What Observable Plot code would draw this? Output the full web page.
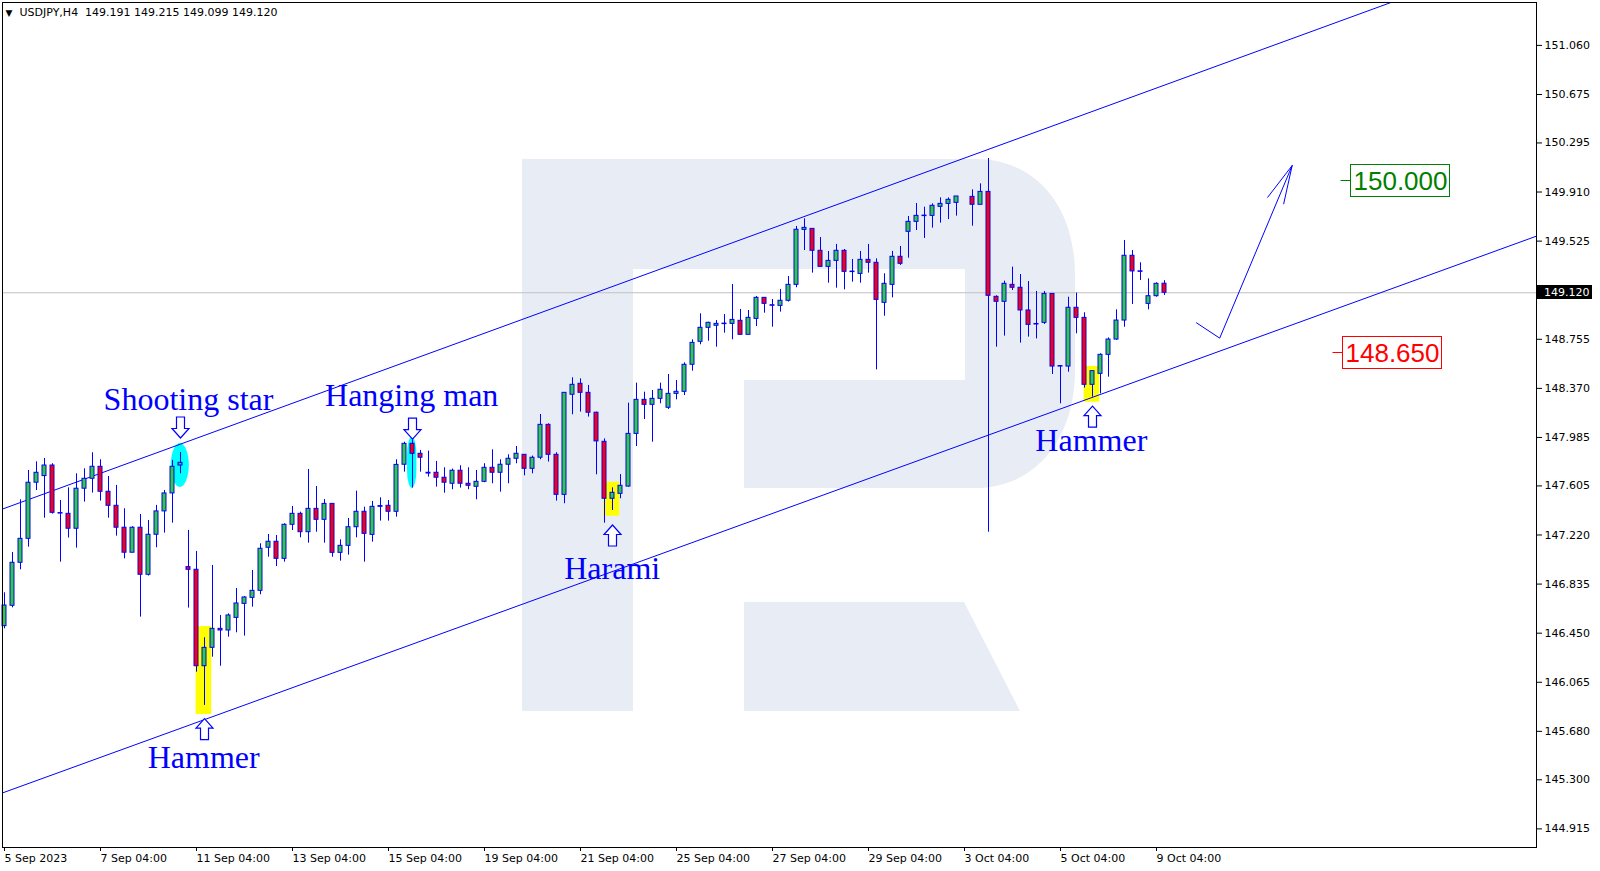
<!DOCTYPE html>
<html><head><meta charset="utf-8">
<script src="https://cdn.jsdelivr.net/npm/d3@7"></script>
<script src="https://cdn.jsdelivr.net/npm/@observablehq/plot@0.6"></script>
<style>
html,body{margin:0;padding:0;background:#fff;}
#chart svg{display:block;}
</style></head><body><div id="chart"></div>
<script>
// ---------- data ----------
const symbolTitle = "USDJPY,H4\u00a0\u00a0149.191 149.215 149.099 149.120";
const dateLabels = ["5 Sep 2023","7 Sep 04:00","11 Sep 04:00","13 Sep 04:00","15 Sep 04:00","19 Sep 04:00","21 Sep 04:00","25 Sep 04:00","27 Sep 04:00","29 Sep 04:00","3 Oct 04:00","5 Oct 04:00","9 Oct 04:00"];
const dateTickBars = [0,12,24,36,48,60,72,84,96,108,120,132,144];
const priceTicks = [151.060,150.675,150.295,149.910,149.525,148.755,148.370,147.985,147.605,147.220,146.835,146.450,146.065,145.680,145.300,144.915];

const open = [
146.505,146.665,147.002,147.190,147.630,147.682,147.765,147.392,147.386,147.269,
147.583,147.661,147.755,147.559,147.449,147.277,147.081,147.277,146.908,147.222,
147.405,147.546,147.765,146.968,146.947,146.191,146.335,146.484,146.471,146.570,
146.680,146.727,146.782,147.120,147.167,147.033,147.300,147.386,147.242,147.425,
147.339,147.464,147.080,147.135,147.281,147.402,147.221,147.441,147.449,147.402,
147.771,147.935,147.857,147.708,147.708,147.669,147.622,147.724,147.622,147.598,
147.637,147.747,147.708,147.771,147.818,147.849,147.739,147.826,148.084,147.849,
147.535,148.320,148.406,148.335,148.179,147.951,147.504,147.543,147.600,148.013,
148.280,148.241,148.288,148.218,148.327,148.343,148.555,148.735,148.845,148.861,
148.874,148.876,148.900,148.790,148.915,149.080,149.022,149.017,149.057,149.182,
149.613,149.621,149.449,149.323,149.370,149.449,149.286,149.268,149.378,149.355,
149.041,149.182,149.402,149.598,149.676,149.721,149.723,149.794,149.817,149.825,
null,149.872,149.810,149.911,149.088,149.049,149.182,149.159,148.981,148.875,
148.884,149.111,148.541,148.541,149.002,148.923,148.398,148.484,148.633,148.753,
148.902,149.410,149.288,149.033,149.093,149.191];
const high = [
146.767,147.083,147.496,147.726,147.794,147.820,147.779,147.491,147.590,147.700,
147.739,147.865,147.810,147.679,147.609,147.426,147.285,147.381,147.334,147.452,
147.569,147.805,147.867,147.256,147.091,146.414,146.981,146.589,146.602,146.800,
146.738,146.942,147.151,147.224,147.216,147.308,147.444,147.399,147.734,147.600,
147.498,147.464,147.182,147.350,147.564,147.438,147.483,147.512,147.491,147.810,
147.948,147.967,147.883,147.878,147.797,147.747,147.737,147.763,147.747,147.726,
147.779,147.888,147.810,147.849,147.914,147.849,147.839,148.165,148.092,147.865,
148.335,148.453,148.445,148.393,148.184,147.974,147.590,147.694,148.254,148.411,
148.340,148.353,148.411,148.479,148.432,148.570,148.751,148.955,148.889,148.902,
148.949,149.185,148.989,148.981,149.091,149.080,149.067,149.146,149.247,149.640,
149.700,149.621,149.553,149.444,149.499,149.459,149.381,149.444,149.499,149.386,
149.269,149.444,149.483,149.718,149.820,149.791,149.817,149.864,149.864,149.875,
null,149.927,149.974,150.173,149.096,149.211,149.321,149.263,149.208,149.130,
149.130,149.111,148.548,149.085,149.117,148.963,148.505,148.641,148.766,148.986,
149.530,149.451,149.355,149.229,149.198,149.215];
const low = [
146.484,146.649,146.947,147.125,147.569,147.352,147.384,147.007,147.196,147.117,
147.478,147.549,147.486,147.352,147.211,147.033,147.081,146.576,146.898,147.120,
147.235,147.313,147.700,146.647,146.144,145.883,146.262,146.191,146.419,146.453,
146.427,146.654,146.751,147.046,146.973,147.007,147.255,147.198,147.156,147.242,
147.156,147.046,147.015,147.062,147.198,147.007,147.164,147.329,147.329,147.360,
147.713,147.588,147.713,147.674,147.596,147.548,147.575,147.588,147.575,147.496,
147.630,147.622,147.556,147.622,147.779,147.684,147.700,147.810,147.792,147.486,
147.465,148.163,148.184,148.145,147.692,147.313,147.412,147.504,147.595,147.914,
148.126,147.948,148.249,148.204,148.280,148.314,148.505,148.712,148.740,148.693,
148.803,148.751,148.790,148.790,148.855,148.960,148.850,148.968,149.047,149.159,
149.451,149.274,149.321,149.195,149.156,149.143,149.203,149.195,149.274,148.515,
148.936,149.080,149.334,149.391,149.608,149.546,149.627,149.666,149.694,149.721,
null,149.642,149.810,147.242,148.693,148.780,149.138,148.725,148.772,148.758,
148.871,148.479,148.249,148.497,148.798,148.372,148.301,148.327,148.458,148.746,
148.850,149.028,149.216,148.986,149.085,149.099];
const close = [
146.667,147.002,147.190,147.630,147.708,147.765,147.394,147.388,147.269,147.583,
147.661,147.755,147.559,147.449,147.277,147.081,147.277,146.908,147.222,147.405,
147.546,147.755,147.786,146.947,146.191,146.335,146.484,146.471,146.589,146.683,
146.730,146.782,147.112,147.167,147.033,147.300,147.386,147.242,147.425,147.339,
147.464,147.080,147.135,147.281,147.402,147.229,147.441,147.447,147.402,147.770,
147.935,147.857,147.826,147.702,147.669,147.630,147.724,147.622,147.606,147.637,
147.747,147.708,147.771,147.818,147.857,147.739,147.826,148.084,147.849,147.535,
148.335,148.398,148.335,148.179,147.954,147.504,147.551,147.606,148.013,148.280,
148.241,148.288,148.359,148.327,148.343,148.555,148.727,148.845,148.884,148.876,
148.878,148.907,148.790,148.923,149.080,149.033,149.018,149.057,149.182,149.614,
149.629,149.449,149.323,149.370,149.449,149.284,149.282,149.378,149.355,149.064,
149.190,149.402,149.347,149.676,149.723,149.725,149.802,149.817,149.849,149.875,
null,149.810,149.911,149.096,149.049,149.190,149.159,148.981,148.868,148.871,
149.111,148.541,148.545,149.002,148.923,148.398,148.505,148.633,148.753,148.902,
149.410,149.287,149.284,149.093,149.190,149.120];

const lastPrice = 149.120;

// candlestick patterns
const patternNames = ["Shooting star","Hanging man","Harami","Hammer","Hammer"];
const patternBars  = [22, 51, 76, 136, 25];
const labelBars    = [23.0, 50.9, 75.96, 135.85, 24.9];
const labelPrices  = [148.197, 148.230, 146.874, 147.875, 145.391];
const arrowPrices  = [148.063, 148.055, 147.216, 148.149, 145.698];
const arrowDirs    = ["down","down","up","up","up"];
const zoneTop      = [147.938, 147.987, 147.634, 148.542, 146.502];
const zoneBottom   = [147.593, 147.587, 147.367, 148.262, 145.812];
const zoneKind     = ["ellipse","ellipse","box","box","box"];

// channel and forecast
const upperChannelBars = [-0.25, 191.5], upperChannelPrices = [147.4235, 151.813];
const lowerChannelBars = [-0.25, 191.5], lowerChannelPrices = [145.197, 149.564];
const forecastBars = [149.0, 151.9, 160.96], forecastPrices = [148.884, 148.764, 150.118];
const headBars = [157.9, 160.96, 159.9], headPrices = [149.869, 150.118, 149.818];

// price levels
const levelValues = [150.000, 148.650];
const levelBars   = [168.25, 167.3];

// ---------- styles ----------
const BLUE = "#0000ff", BULL = "#32cd32", BEAR = "#ff0000";
const levelColors = ["#008000", "#ff0000"];
const W = 1600, H = 871, mL = 2, mR = 64, mT = 2, mB = 24;
const xDomain = [-0.25, -0.25 + (W - mL - mR) / 8];
const yDomain = [144.769, 151.3965];

const candles = open.map((o, i) => ({i, o, h: high[i], l: low[i], c: close[i]})).filter(d => d.o != null);
const patterns = patternNames.map((name, k) => ({
  name, bar: patternBars[k], lbar: labelBars[k], lprice: labelPrices[k], aprice: arrowPrices[k],
  dir: arrowDirs[k], top: zoneTop[k], bottom: zoneBottom[k], kind: zoneKind[k]
}));
const zip = (a, b) => a.map((v, k) => [v, b[k]]);

const upSym = {draw(ctx) {
  ctx.moveTo(0, -10.5); ctx.lineTo(8.5, -1); ctx.lineTo(4, -1); ctx.lineTo(4, 10.5);
  ctx.lineTo(-4, 10.5); ctx.lineTo(-4, -1); ctx.lineTo(-8.5, -1); ctx.closePath();
}};
const downSym = {draw(ctx) {
  ctx.moveTo(0, 10.5); ctx.lineTo(8.5, 1); ctx.lineTo(4, 1); ctx.lineTo(4, -10.5);
  ctx.lineTo(-4, -10.5); ctx.lineTo(-4, 1); ctx.lineTo(-8.5, 1); ctx.closePath();
}};

// decorative watermark (logo in pixel space)
const logoPaths = [
  "M522,159 L975,159 C1035,159 1075,205 1075,275 L1075,370 C1075,440 1035,488 975,488 L744,488 L744,380 L965,380 L965,269 L633,269 L633,711 L522,711 Z",
  "M744,602 L964,602 L1020,711 L744,711 Z"
];
function watermark() {
  const g = d3.create("svg:g");
  logoPaths.forEach(p => g.append("path").attr("d", p).attr("fill", "#e8edf5"));
  return g.node();
}
function levelTags(index, scales) {
  const g = d3.create("svg:g").attr("text-anchor", "start");
  levelValues.forEach((v, k) => {
    const yy = Math.round(scales.y(v)) + 0.5;
    const bx = Math.round(scales.x(levelBars[k])) + 0.5;
    g.append("line").attr("x1", bx - 10).attr("x2", bx).attr("y1", yy).attr("y2", yy).attr("stroke", levelColors[k]);
    g.append("rect").attr("x", bx).attr("y", yy - 16).attr("width", 99).attr("height", 32)
      .attr("fill", "#fff").attr("stroke", levelColors[k]);
    g.append("text").attr("x", bx + 3).attr("y", yy).attr("dy", "0.36em").attr("fill", levelColors[k])
      .attr("text-anchor", "start")
      .attr("font-family", "Liberation Sans").attr("font-size", 26).text(v.toFixed(3));
  });
  return g.node();
}
function priceTag(index, scales, values, dims) {
  const g = d3.create("svg:g").attr("text-anchor", "start");
  const y = Math.round(scales.y(lastPrice));
  const x0 = dims.width - dims.marginRight;
  g.append("rect").attr("x", x0).attr("y", y - 7).attr("width", 56).attr("height", 14).attr("fill", "#000");
  g.append("text").attr("x", x0 + 8).attr("y", y).attr("dy", "0.36em").attr("fill", "#fff")
    .attr("text-anchor", "start")
    .attr("font-family", "DejaVu Sans").attr("font-size", 11).text(lastPrice.toFixed(3));
  return g.node();
}

const chart = Plot.plot({
  width: W, height: H, marginLeft: mL, marginRight: mR, marginTop: mT, marginBottom: mB,
  style: {background: "#fff", fontFamily: "DejaVu Sans", fontSize: "11px", color: "#000"},
  x: {type: "linear", domain: xDomain, axis: null},
  y: {type: "linear", domain: yDomain, axis: null},
  marks: [
    watermark,
    Plot.rect(patterns.filter(d => d.kind === "box"), {x1: d => d.bar - 1.05, x2: d => d.bar + 0.9, y1: "top", y2: "bottom", fill: "#ffff00"}),
    Plot.rect(patterns.filter(d => d.kind === "ellipse" && d.bar === 22), {x1: d => d.bar - 1.15, x2: d => d.bar + 1.1, y1: "top", y2: "bottom", fill: "#00ffff", rx: 9, ry: 22}),
    Plot.rect(patterns.filter(d => d.kind === "ellipse" && d.bar !== 22), {x1: d => d.bar - 0.62, x2: d => d.bar + 0.55, y1: "top", y2: "bottom", fill: "#00ffff", rx: 5, ry: 18}),
    Plot.ruleY([lastPrice], {stroke: "#c0c0c0"}),
    Plot.line(zip(upperChannelBars, upperChannelPrices), {x: "0", y: "1", stroke: BLUE, strokeWidth: 1, clip: true}),
    Plot.line(zip(lowerChannelBars, lowerChannelPrices), {x: "0", y: "1", stroke: BLUE, strokeWidth: 1, clip: true}),
    Plot.ruleX(candles, {x: "i", y1: "l", y2: "h", stroke: BLUE, strokeWidth: 1}),
    Plot.rect(candles, {x1: d => d.i - 0.25, x2: d => d.i + 0.25, y1: "o", y2: "c",
      fill: d => d.c >= d.o ? BULL : BEAR, stroke: BLUE, strokeWidth: 1}),
    Plot.dot(patterns.filter(d => d.dir === "up"), {x: "bar", y: "aprice", symbol: upSym, fill: "#fff", stroke: BLUE, strokeWidth: 1.2}),
    Plot.dot(patterns.filter(d => d.dir === "down"), {x: "bar", y: "aprice", symbol: downSym, fill: "#fff", stroke: BLUE, strokeWidth: 1.2}),
    Plot.text(patterns, {x: "lbar", y: "lprice", text: "name", fill: BLUE, fontFamily: "Liberation Serif",
      fontSize: 32, textAnchor: "middle", lineAnchor: "bottom"}),
    Plot.line(zip(forecastBars, forecastPrices), {x: "0", y: "1", stroke: BLUE, strokeWidth: 1}),
    Plot.line(zip(headBars, headPrices), {x: "0", y: "1", stroke: BLUE, strokeWidth: 1}),
    levelTags,
    Plot.frame({stroke: "#000"}),
    Plot.axisY(priceTicks, {anchor: "right", tickFormat: d => d.toFixed(3), tickSize: 5, tickPadding: 3, fontSize: 11}),
    Plot.axisX(dateTickBars, {anchor: "bottom", tickFormat: d => dateLabels[dateTickBars.indexOf(d)], textAnchor: "start", tickSize: 4, tickPadding: 3, fontSize: 11}),
    priceTag,
    Plot.text(["\u25bc"], {frameAnchor: "top-left", dx: 3, dy: 11, fontSize: 9, textAnchor: "start", lineAnchor: "middle", fill: "#000"}),
    Plot.text([symbolTitle], {frameAnchor: "top-left", dx: 17, dy: 6, fontSize: 11, fontFamily: "DejaVu Sans", textAnchor: "start", lineAnchor: "top", fill: "#000"})
  ]
});
document.getElementById("chart").appendChild(chart);
</script></body></html>
